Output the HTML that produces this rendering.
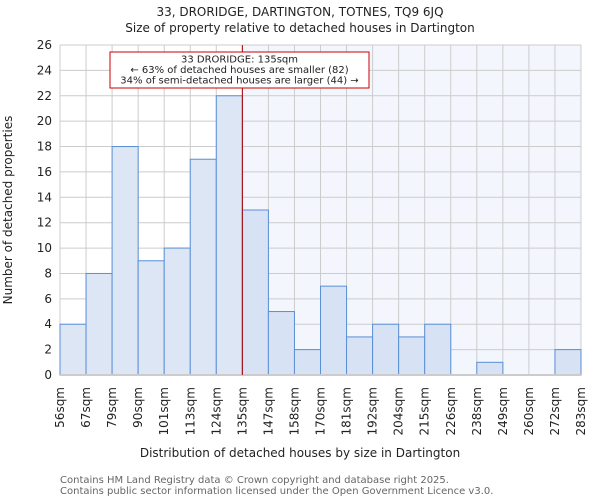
<!DOCTYPE html>
<html><head><meta charset="utf-8"><style>
body{margin:0;background:#fff;font-family:"DejaVu Sans","Liberation Sans",sans-serif}
</style></head><body>
<svg width="600" height="500" xmlns="http://www.w3.org/2000/svg" font-family="DejaVu Sans, Liberation Sans, sans-serif">
<text x="300" y="16" text-anchor="middle" font-size="12" fill="#222">33, DRORIDGE, DARTINGTON, TOTNES, TQ9 6JQ</text>
<text x="300" y="32" text-anchor="middle" font-size="12" fill="#222">Size of property relative to detached houses in Dartington</text>
<g id="plot"></g>
<text x="300" y="457" text-anchor="middle" font-size="12" fill="#222">Distribution of detached houses by size in Dartington</text>
<text transform="translate(12,210) rotate(-90)" text-anchor="middle" font-size="12" fill="#222">Number of detached properties</text>
<text x="60" y="483" font-size="10" fill="#666">Contains HM Land Registry data © Crown copyright and database right 2025.</text>
<text x="60" y="494" font-size="10" fill="#666">Contains public sector information licensed under the Open Government Licence v3.0.</text>
</svg>
<script>
const binLabels=["56sqm","67sqm","79sqm","90sqm","101sqm","113sqm","124sqm","135sqm","147sqm","158sqm","170sqm","181sqm","192sqm","204sqm","215sqm","226sqm","238sqm","249sqm","260sqm","272sqm","283sqm"];
const counts=[4,8,18,9,10,17,22,13,5,2,7,3,4,3,4,0,1,0,0,2];
const yTicks=[0,2,4,6,8,10,12,14,16,18,20,22,24,26];
const markerIndex=7;
const ns="http://www.w3.org/2000/svg";
const L=60,R=581,T=45,B=375,yMax=26;
const n=counts.length,bw=(R-L)/n;
const xs=i=>L+i*bw, ys=v=>B-(v/yMax)*(B-T);
const g=document.getElementById('plot');
function mk(t,a){const e=document.createElementNS(ns,t);for(const k in a)e.setAttribute(k,a[k]);g.appendChild(e);return e;}
let e=mk('rect',{x:xs(markerIndex),y:T,width:R-xs(markerIndex),height:B-T,fill:'#f4f6fd'});


yTicks.forEach(v=>{
 let l=mk('line',{x1:L,x2:R,y1:ys(v),y2:ys(v),stroke:'#cccccc','stroke-width':1});
 
 
 let t=mk('text',{x:L-8,y:ys(v)+4,'text-anchor':'end','font-size':12,fill:'#222'});
 t.textContent=v;
 
 
});
binLabels.forEach((s,i)=>{
 let l=mk('line',{x1:xs(i),x2:xs(i),y1:T,y2:B,stroke:'#cccccc','stroke-width':1});
 
 
 let x=xs(i)+4;
 let t=mk('text',{transform:`translate(${x},387) rotate(-90)`,'text-anchor':'end','font-size':12,fill:'#222'});
 t.textContent=s;
 
 
});
counts.forEach((v,i)=>{
 let r=mk('rect',{x:xs(i),y:ys(v),width:bw,height:B-ys(v),fill:i<markerIndex?'#dce6f4':'#d7e2f4',stroke:'#5b8fd6','stroke-width':1});
 
 
});
let ax=mk('line',{x1:L,x2:R,y1:B,y2:B,stroke:'#cccccc','stroke-width':2});


let ml=mk('line',{x1:xs(markerIndex),x2:xs(markerIndex),y1:T,y2:B,stroke:'#aa0000','stroke-width':1});


let box=mk('rect',{x:110,y:52,width:259,height:36,fill:'#fff',stroke:'#cc0000','stroke-width':1});


["33 DRORIDGE: 135sqm","← 63% of detached houses are smaller (82)","34% of semi-detached houses are larger (44) →"].forEach((s,i)=>{
 let t=mk('text',{x:239.5,y:62.5+i*10.5,'text-anchor':'middle','font-size':10,fill:'#222'});
 t.textContent=s;
 
 
});
</script>
</body></html>
